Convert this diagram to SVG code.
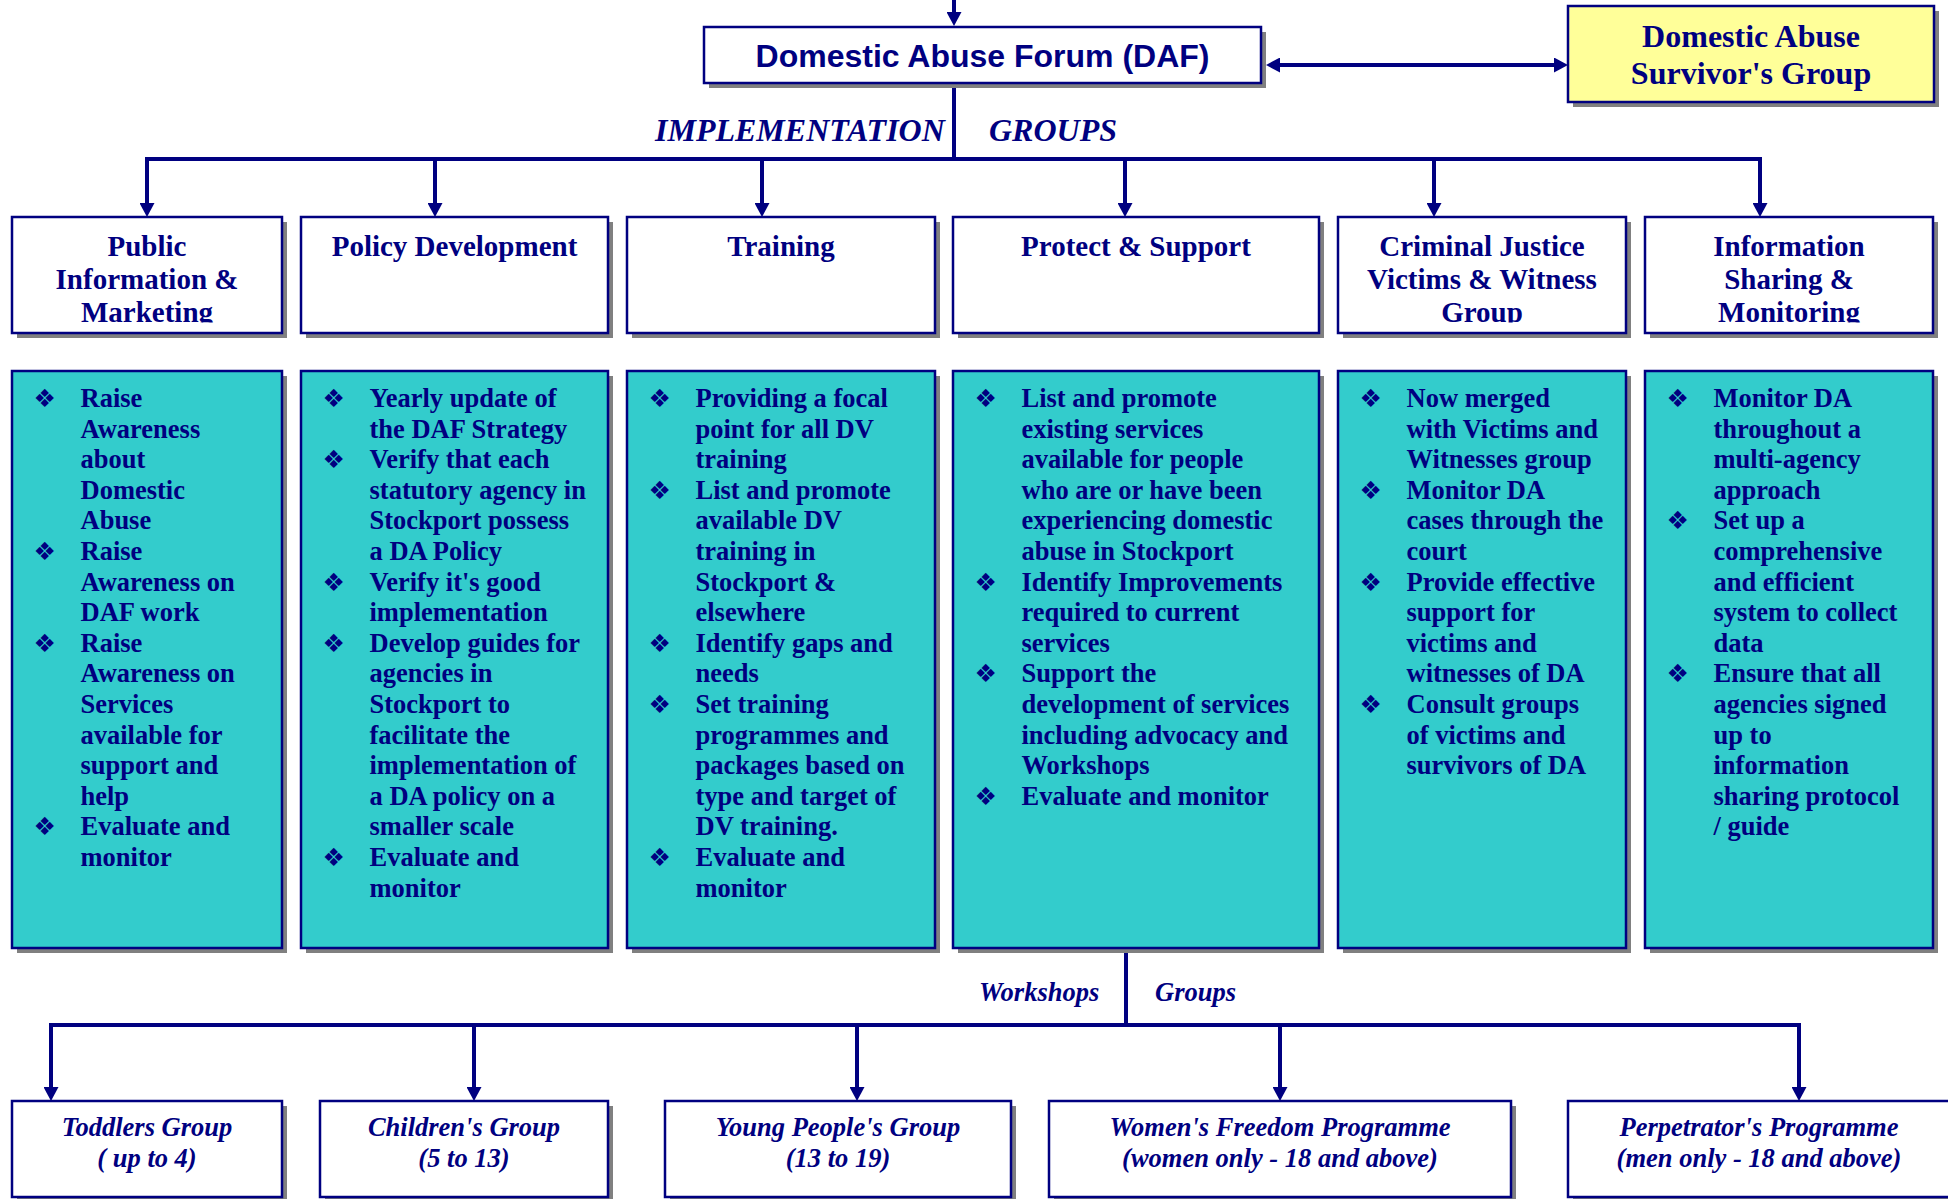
<svg xmlns="http://www.w3.org/2000/svg" width="1948" height="1199" viewBox="0 0 1948 1199">
<defs>
<style>
.box{fill:#FFFFFF;stroke:#000080;stroke-width:2.5}
.body{fill:#33CCCC;stroke:#000080;stroke-width:2.5}
.yel{fill:#FFFF99;stroke:#000080;stroke-width:2.5}
.sh{fill:#808080}
.ln{fill:none;stroke:#000080;stroke-width:4}
.hd{font-family:"Liberation Serif","Times New Roman",serif;font-weight:bold;font-size:29px;fill:#000080;text-anchor:middle}
.bt{font-family:"Liberation Serif","Times New Roman",serif;font-weight:bold;font-size:26.5px;fill:#000080}
.bu{font-family:"DejaVu Sans",sans-serif;font-size:25px;fill:#000080}
.it{font-family:"Liberation Serif","Times New Roman",serif;font-weight:bold;font-style:italic;fill:#000080}
.bot{font-size:26.5px;text-anchor:middle}
</style>
<marker id="ah" markerUnits="userSpaceOnUse" markerWidth="14" markerHeight="15" viewBox="0 0 14 15" refX="6" refY="7.5" orient="auto-start-reverse">
<path d="M0,0 L14,7.5 L0,15 z" fill="#000080"/>
</marker>
<clipPath id="hclip" clipPathUnits="userSpaceOnUse"><rect x="0" y="217" width="1948" height="105.5"/></clipPath>
</defs>
<rect width="1948" height="1199" fill="#FFFFFF"/>

<g id="connectors">
<line class="ln" x1="954" y1="0" x2="954" y2="18" marker-end="url(#ah)"/>
<line class="ln" x1="954" y1="83" x2="954" y2="159"/>
<line class="ln" x1="1274" y1="65" x2="1560" y2="65" marker-start="url(#ah)" marker-end="url(#ah)"/>
<path class="ln" d="M147,209 V159 H1760 V209"/>
<line class="ln" x1="147" y1="159" x2="147" y2="209" marker-end="url(#ah)"/>
<line class="ln" x1="435" y1="159" x2="435" y2="209" marker-end="url(#ah)"/>
<line class="ln" x1="762" y1="159" x2="762" y2="209" marker-end="url(#ah)"/>
<line class="ln" x1="1125" y1="159" x2="1125" y2="209" marker-end="url(#ah)"/>
<line class="ln" x1="1434" y1="159" x2="1434" y2="209" marker-end="url(#ah)"/>
<line class="ln" x1="1760" y1="159" x2="1760" y2="209" marker-end="url(#ah)"/>
<line class="ln" x1="1126" y1="948" x2="1126" y2="1025"/>
<path class="ln" d="M51,1093 V1025 H1799 V1093"/>
<line class="ln" x1="51" y1="1025" x2="51" y2="1093" marker-end="url(#ah)"/>
<line class="ln" x1="474" y1="1025" x2="474" y2="1093" marker-end="url(#ah)"/>
<line class="ln" x1="857" y1="1025" x2="857" y2="1093" marker-end="url(#ah)"/>
<line class="ln" x1="1280" y1="1025" x2="1280" y2="1093" marker-end="url(#ah)"/>
<line class="ln" x1="1799" y1="1025" x2="1799" y2="1093" marker-end="url(#ah)"/>
<text class="it" x="655" y="141" font-size="32">IMPLEMENTATION</text>
<text class="it" x="989" y="141" font-size="32">GROUPS</text>
<text class="it" x="979" y="1001" font-size="26.5">Workshops</text>
<text class="it" x="1155" y="1001" font-size="26.5">Groups</text>
</g>

<g id="daf">
<rect class="sh" x="709" y="32" width="557" height="56"/>
<rect class="box" x="704" y="27" width="557" height="56"/>
<text x="982.5" y="66.5" font-family="Liberation Sans, Arial, sans-serif" font-weight="bold" font-size="32" fill="#000080" text-anchor="middle">Domestic Abuse Forum (DAF)</text>
</g>

<g id="survivors">
<rect class="sh" x="1573" y="11" width="366" height="96"/>
<rect class="yel" x="1568" y="6" width="366" height="96"/>
<text class="hd" style="font-size:32px"><tspan x="1751" y="47">Domestic Abuse</tspan><tspan x="1751" y="84">Survivor's Group</tspan></text>
</g>

<g id="hdr-public">
<rect class="sh" x="17" y="222" width="270" height="116"/>
<rect class="box" x="12" y="217" width="270" height="116"/>
<text class="hd" clip-path="url(#hclip)"><tspan x="147" y="256">Public</tspan><tspan x="147" y="289">Information &amp;</tspan><tspan x="147" y="322">Marketing</tspan></text>
</g>
<g id="hdr-policy">
<rect class="sh" x="306" y="222" width="307" height="116"/>
<rect class="box" x="301" y="217" width="307" height="116"/>
<text class="hd"><tspan x="454.5" y="256">Policy Development</tspan></text>
</g>
<g id="hdr-training">
<rect class="sh" x="632" y="222" width="308" height="116"/>
<rect class="box" x="627" y="217" width="308" height="116"/>
<text class="hd"><tspan x="781" y="256">Training</tspan></text>
</g>
<g id="hdr-protect">
<rect class="sh" x="958" y="222" width="366" height="116"/>
<rect class="box" x="953" y="217" width="366" height="116"/>
<text class="hd"><tspan x="1136" y="256">Protect &amp; Support</tspan></text>
</g>
<g id="hdr-criminal">
<rect class="sh" x="1343" y="222" width="288" height="116"/>
<rect class="box" x="1338" y="217" width="288" height="116"/>
<text class="hd" clip-path="url(#hclip)"><tspan x="1482" y="256">Criminal Justice</tspan><tspan x="1482" y="289">Victims &amp; Witness</tspan><tspan x="1482" y="322">Group</tspan></text>
</g>
<g id="hdr-info">
<rect class="sh" x="1650" y="222" width="288" height="116"/>
<rect class="box" x="1645" y="217" width="288" height="116"/>
<text class="hd" clip-path="url(#hclip)"><tspan x="1789" y="256">Information</tspan><tspan x="1789" y="289">Sharing &amp;</tspan><tspan x="1789" y="322">Monitoring</tspan></text>
</g>

<g id="body-public">
<rect class="sh" x="17" y="376" width="270" height="577"/>
<rect class="body" x="12" y="371" width="270" height="577"/>
<text class="bu"><tspan x="33.5" y="407">❖</tspan><tspan x="33.5" y="560">❖</tspan><tspan x="33.5" y="651.8">❖</tspan><tspan x="33.5" y="835.4">❖</tspan></text>
<text class="bt"><tspan x="80.5" y="407">Raise</tspan><tspan x="80.5" y="437.6">Awareness</tspan><tspan x="80.5" y="468.2">about</tspan><tspan x="80.5" y="498.8">Domestic</tspan><tspan x="80.5" y="529.4">Abuse</tspan><tspan x="80.5" y="560">Raise</tspan><tspan x="80.5" y="590.6">Awareness on</tspan><tspan x="80.5" y="621.2">DAF work</tspan><tspan x="80.5" y="651.8">Raise</tspan><tspan x="80.5" y="682.4">Awareness on</tspan><tspan x="80.5" y="713">Services</tspan><tspan x="80.5" y="743.6">available for</tspan><tspan x="80.5" y="774.2">support and</tspan><tspan x="80.5" y="804.8">help</tspan><tspan x="80.5" y="835.4">Evaluate and</tspan><tspan x="80.5" y="866">monitor</tspan></text>
</g>

<g id="body-policy">
<rect class="sh" x="306" y="376" width="307" height="577"/>
<rect class="body" x="301" y="371" width="307" height="577"/>
<text class="bu"><tspan x="322.5" y="407">❖</tspan><tspan x="322.5" y="468.2">❖</tspan><tspan x="322.5" y="590.6">❖</tspan><tspan x="322.5" y="651.8">❖</tspan><tspan x="322.5" y="866">❖</tspan></text>
<text class="bt"><tspan x="369.5" y="407">Yearly update of</tspan><tspan x="369.5" y="437.6">the DAF Strategy</tspan><tspan x="369.5" y="468.2">Verify that each</tspan><tspan x="369.5" y="498.8">statutory agency in</tspan><tspan x="369.5" y="529.4">Stockport possess</tspan><tspan x="369.5" y="560">a DA Policy</tspan><tspan x="369.5" y="590.6">Verify it's good</tspan><tspan x="369.5" y="621.2">implementation</tspan><tspan x="369.5" y="651.8">Develop guides for</tspan><tspan x="369.5" y="682.4">agencies in</tspan><tspan x="369.5" y="713">Stockport to</tspan><tspan x="369.5" y="743.6">facilitate the</tspan><tspan x="369.5" y="774.2">implementation of</tspan><tspan x="369.5" y="804.8">a DA policy on a</tspan><tspan x="369.5" y="835.4">smaller scale</tspan><tspan x="369.5" y="866">Evaluate and</tspan><tspan x="369.5" y="896.6">monitor</tspan></text>
</g>

<g id="body-training">
<rect class="sh" x="632" y="376" width="308" height="577"/>
<rect class="body" x="627" y="371" width="308" height="577"/>
<text class="bu"><tspan x="648.5" y="407">❖</tspan><tspan x="648.5" y="498.8">❖</tspan><tspan x="648.5" y="651.8">❖</tspan><tspan x="648.5" y="713">❖</tspan><tspan x="648.5" y="866">❖</tspan></text>
<text class="bt"><tspan x="695.5" y="407">Providing a focal</tspan><tspan x="695.5" y="437.6">point for all DV</tspan><tspan x="695.5" y="468.2">training</tspan><tspan x="695.5" y="498.8">List and promote</tspan><tspan x="695.5" y="529.4">available DV</tspan><tspan x="695.5" y="560">training in</tspan><tspan x="695.5" y="590.6">Stockport &amp;</tspan><tspan x="695.5" y="621.2">elsewhere</tspan><tspan x="695.5" y="651.8">Identify gaps and</tspan><tspan x="695.5" y="682.4">needs</tspan><tspan x="695.5" y="713">Set training</tspan><tspan x="695.5" y="743.6">programmes and</tspan><tspan x="695.5" y="774.2">packages based on</tspan><tspan x="695.5" y="804.8">type and target of</tspan><tspan x="695.5" y="835.4">DV training.</tspan><tspan x="695.5" y="866">Evaluate and</tspan><tspan x="695.5" y="896.6">monitor</tspan></text>
</g>

<g id="body-protect">
<rect class="sh" x="958" y="376" width="366" height="577"/>
<rect class="body" x="953" y="371" width="366" height="577"/>
<text class="bu"><tspan x="974.5" y="407">❖</tspan><tspan x="974.5" y="590.6">❖</tspan><tspan x="974.5" y="682.4">❖</tspan><tspan x="974.5" y="804.8">❖</tspan></text>
<text class="bt"><tspan x="1021.5" y="407">List and promote</tspan><tspan x="1021.5" y="437.6">existing services</tspan><tspan x="1021.5" y="468.2">available for people</tspan><tspan x="1021.5" y="498.8">who are or have been</tspan><tspan x="1021.5" y="529.4">experiencing domestic</tspan><tspan x="1021.5" y="560">abuse in Stockport</tspan><tspan x="1021.5" y="590.6">Identify Improvements</tspan><tspan x="1021.5" y="621.2">required to current</tspan><tspan x="1021.5" y="651.8">services</tspan><tspan x="1021.5" y="682.4">Support the</tspan><tspan x="1021.5" y="713">development of services</tspan><tspan x="1021.5" y="743.6">including advocacy and</tspan><tspan x="1021.5" y="774.2">Workshops</tspan><tspan x="1021.5" y="804.8">Evaluate and monitor</tspan></text>
</g>

<g id="body-criminal">
<rect class="sh" x="1343" y="376" width="288" height="577"/>
<rect class="body" x="1338" y="371" width="288" height="577"/>
<text class="bu"><tspan x="1359.5" y="407">❖</tspan><tspan x="1359.5" y="498.8">❖</tspan><tspan x="1359.5" y="590.6">❖</tspan><tspan x="1359.5" y="713">❖</tspan></text>
<text class="bt"><tspan x="1406.5" y="407">Now merged</tspan><tspan x="1406.5" y="437.6">with Victims and</tspan><tspan x="1406.5" y="468.2">Witnesses group</tspan><tspan x="1406.5" y="498.8">Monitor DA</tspan><tspan x="1406.5" y="529.4">cases through the</tspan><tspan x="1406.5" y="560">court</tspan><tspan x="1406.5" y="590.6">Provide effective</tspan><tspan x="1406.5" y="621.2">support for</tspan><tspan x="1406.5" y="651.8">victims and</tspan><tspan x="1406.5" y="682.4">witnesses of DA</tspan><tspan x="1406.5" y="713">Consult groups</tspan><tspan x="1406.5" y="743.6">of victims and</tspan><tspan x="1406.5" y="774.2">survivors of DA</tspan></text>
</g>

<g id="body-info">
<rect class="sh" x="1650" y="376" width="288" height="577"/>
<rect class="body" x="1645" y="371" width="288" height="577"/>
<text class="bu"><tspan x="1666.5" y="407">❖</tspan><tspan x="1666.5" y="529.4">❖</tspan><tspan x="1666.5" y="682.4">❖</tspan></text>
<text class="bt"><tspan x="1713.5" y="407">Monitor DA</tspan><tspan x="1713.5" y="437.6">throughout a</tspan><tspan x="1713.5" y="468.2">multi-agency</tspan><tspan x="1713.5" y="498.8">approach</tspan><tspan x="1713.5" y="529.4">Set up a</tspan><tspan x="1713.5" y="560">comprehensive</tspan><tspan x="1713.5" y="590.6">and efficient</tspan><tspan x="1713.5" y="621.2">system to collect</tspan><tspan x="1713.5" y="651.8">data</tspan><tspan x="1713.5" y="682.4">Ensure that all</tspan><tspan x="1713.5" y="713">agencies signed</tspan><tspan x="1713.5" y="743.6">up to</tspan><tspan x="1713.5" y="774.2">information</tspan><tspan x="1713.5" y="804.8">sharing protocol</tspan><tspan x="1713.5" y="835.4">/ guide</tspan></text>
</g>

<g id="grp-toddlers">
<rect class="sh" x="17" y="1106" width="270" height="96"/>
<rect class="box" x="12" y="1101" width="270" height="96"/>
<text class="it bot"><tspan x="147" y="1136">Toddlers Group</tspan><tspan x="147" y="1167">( up to 4)</tspan></text>
</g>
<g id="grp-children">
<rect class="sh" x="325" y="1106" width="288" height="96"/>
<rect class="box" x="320" y="1101" width="288" height="96"/>
<text class="it bot"><tspan x="464" y="1136">Children's Group</tspan><tspan x="464" y="1167">(5 to 13)</tspan></text>
</g>
<g id="grp-young">
<rect class="sh" x="670" y="1106" width="346" height="96"/>
<rect class="box" x="665" y="1101" width="346" height="96"/>
<text class="it bot"><tspan x="838" y="1136">Young People's Group</tspan><tspan x="838" y="1167">(13 to 19)</tspan></text>
</g>
<g id="grp-women">
<rect class="sh" x="1054" y="1106" width="462" height="96"/>
<rect class="box" x="1049" y="1101" width="462" height="96"/>
<text class="it bot"><tspan x="1280" y="1136">Women's Freedom Programme</tspan><tspan x="1280" y="1167">(women only - 18 and above)</tspan></text>
</g>
<g id="grp-perpetrator">
<rect class="sh" x="1573" y="1106" width="382" height="96"/>
<rect class="box" x="1568" y="1101" width="382" height="96"/>
<text class="it bot"><tspan x="1759" y="1136">Perpetrator's Programme</tspan><tspan x="1759" y="1167">(men only - 18 and above)</tspan></text>
</g>
</svg>
